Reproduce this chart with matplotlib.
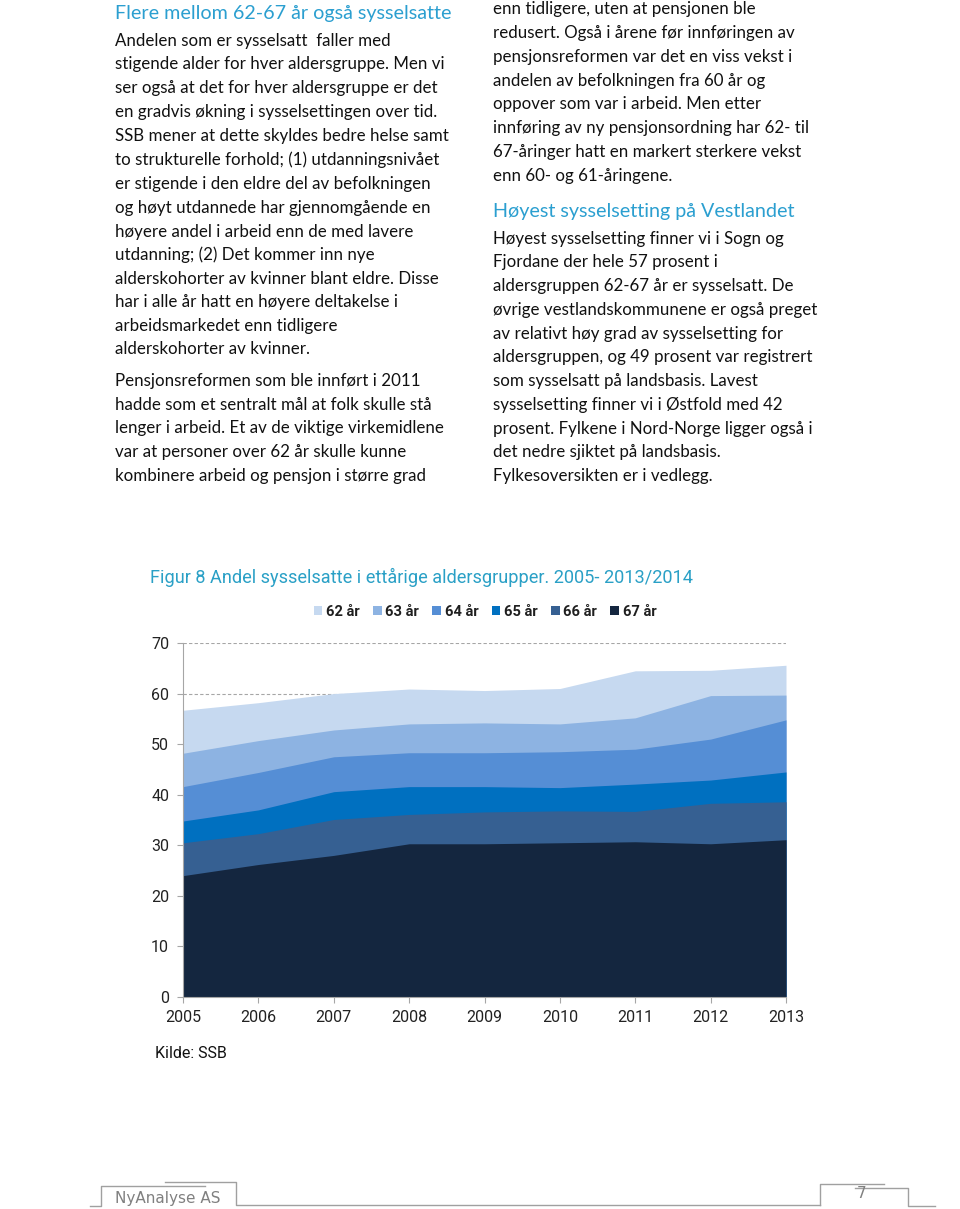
import matplotlib
matplotlib.use("Agg")
import matplotlib.pyplot as plt
from matplotlib.patches import Patch
from matplotlib.lines import Line2D

# ---------------- data ----------------
years = [2005, 2006, 2007, 2008, 2009, 2010, 2011, 2012, 2013]
series_names = ["62 år", "63 år", "64 år", "65 år", "66 år", "67 år"]
v62 = [56.7, 58.2, 60.0, 60.9, 60.6, 61.0, 64.5, 64.6, 65.6]
v63 = [48.2, 50.7, 52.8, 54.0, 54.2, 54.0, 55.2, 59.6, 59.7]
v64 = [41.6, 44.4, 47.5, 48.3, 48.3, 48.5, 49.0, 51.0, 54.8]
v65 = [34.8, 37.0, 40.6, 41.6, 41.6, 41.4, 42.1, 42.9, 44.5]
v66 = [30.5, 32.3, 35.1, 36.1, 36.6, 36.8, 36.7, 38.3, 38.6]
v67 = [24.0, 26.2, 28.0, 30.3, 30.3, 30.5, 30.7, 30.3, 31.1]
series_values = [v62, v63, v64, v65, v66, v67]
colors = ["#C6D9F0", "#8DB3E2", "#558ED5", "#0070C0", "#366092", "#14263F"]
yticks = [0, 10, 20, 30, 40, 50, 60, 70]

chart_title = "Figur 8 Andel sysselsatte i ettårige aldersgrupper. 2005- 2013/2014"
source = "Kilde: SSB"

left_heading = "Flere mellom 62-67 år også sysselsatte"
left_lines = [
    "Andelen som er sysselsatt  faller med",
    "stigende alder for hver aldersgruppe. Men vi",
    "ser også at det for hver aldersgruppe er det",
    "en gradvis økning i sysselsettingen over tid.",
    "SSB mener at dette skyldes bedre helse samt",
    "to strukturelle forhold; (1) utdanningsnivået",
    "er stigende i den eldre del av befolkningen",
    "og høyt utdannede har gjennomgående en",
    "høyere andel i arbeid enn de med lavere",
    "utdanning; (2) Det kommer inn nye",
    "alderskohorter av kvinner blant eldre. Disse",
    "har i alle år hatt en høyere deltakelse i",
    "arbeidsmarkedet enn tidligere",
    "alderskohorter av kvinner.",
    "Pensjonsreformen som ble innført i 2011",
    "hadde som et sentralt mål at folk skulle stå",
    "lenger i arbeid. Et av de viktige virkemidlene",
    "var at personer over 62 år skulle kunne",
    "kombinere arbeid og pensjon i større grad",
]
left_y = [41, 64, 88, 112, 136, 160, 184, 208, 232, 255, 279, 302, 326, 349,
          381, 405, 428, 452, 476]

right_lines_a = [
    "enn tidligere, uten at pensjonen ble",
    "redusert. Også i årene før innføringen av",
    "pensjonsreformen var det en viss vekst i",
    "andelen av befolkningen fra 60 år og",
    "oppover som var i arbeid. Men etter",
    "innføring av ny pensjonsordning har 62- til",
    "67-åringer hatt en markert sterkere vekst",
    "enn 60- og 61-åringene.",
]
right_y_a = [9, 33, 57, 81, 104, 128, 152, 176]
right_heading = "Høyest sysselsetting på Vestlandet"
right_lines_b = [
    "Høyest sysselsetting finner vi i Sogn og",
    "Fjordane der hele 57 prosent i",
    "aldersgruppen 62-67 år er sysselsatt. De",
    "øvrige vestlandskommunene er også preget",
    "av relativt høy grad av sysselsetting for",
    "aldersgruppen, og 49 prosent var registrert",
    "som sysselsatt på landsbasis. Lavest",
    "sysselsetting finner vi i Østfold med 42",
    "prosent. Fylkene i Nord-Norge ligger også i",
    "det nedre sjiktet på landsbasis.",
    "Fylkesoversikten er i vedlegg.",
]
right_y_b = [239, 262, 286, 310, 334, 357, 381, 405, 429, 452, 476]

# ---------------- figure ----------------
W, H = 960, 1209
fig = plt.figure(figsize=(W / 100, H / 100), dpi=100)
fig.patch.set_facecolor("white")

def fx(x):
    return x / W

def fy(y):
    return 1 - y / H

BODY_FONT = "Lato"
HEAD_COLOR = "#2B9FD0"
TEXT_COLOR = "#111111"
CHART_FONT = "Roboto"

renderer = fig.canvas.get_renderer()

def fit_size(text, target_px, family, weight="normal"):
    t = fig.text(0, 0, text, fontsize=10, family=family, weight=weight)
    w = t.get_window_extent(renderer=renderer).width
    t.remove()
    return 10 * target_px / w

body_size = fit_size("stigende alder for hver aldersgruppe. Men vi", 328, BODY_FONT)
head_size = fit_size(left_heading, 337, BODY_FONT)

# left column
fig.text(fx(115), fy(14), left_heading, fontsize=head_size, family=BODY_FONT,
         color=HEAD_COLOR, va="center", ha="left")
for s, y in zip(left_lines, left_y):
    fig.text(fx(115), fy(y), s, fontsize=body_size, family=BODY_FONT,
             color=TEXT_COLOR, va="center", ha="left")

# right column
for s, y in zip(right_lines_a, right_y_a):
    fig.text(fx(493), fy(y), s, fontsize=body_size, family=BODY_FONT,
             color=TEXT_COLOR, va="center", ha="left")
fig.text(fx(493), fy(212), right_heading, fontsize=head_size, family=BODY_FONT,
         color=HEAD_COLOR, va="center", ha="left")
for s, y in zip(right_lines_b, right_y_b):
    fig.text(fx(493), fy(y), s, fontsize=body_size, family=BODY_FONT,
             color=TEXT_COLOR, va="center", ha="left")

# chart title
title_size = fit_size(chart_title, 540, CHART_FONT)
fig.text(fx(150), fy(577), chart_title, fontsize=title_size, family=CHART_FONT,
         color="#2AA0C6", va="center", ha="left")

# ---------------- chart ----------------
ax = fig.add_axes([fx(183), fy(997), (786 - 183) / W, (997 - 643) / H])
for name, vals, c in zip(series_names, series_values, colors):
    ax.fill_between(years, 0, vals, color=c, linewidth=0, label=name, zorder=2)

ax.set_xlim(years[0], years[-1])
ax.set_ylim(0, 70)
ax.set_yticks(yticks)
ax.set_xticks(years)
ax.set_xticklabels([str(y) for y in years])
ax.grid(axis="y", color="#A6A6A6", linestyle=(0, (3, 2)), linewidth=0.8, zorder=0)
ax.set_axisbelow(True)
for side in ["top", "right"]:
    ax.spines[side].set_visible(False)
ax.spines["left"].set_color("#A6A6A6")
ax.spines["bottom"].set_color("#A6A6A6")
ax.spines["left"].set_zorder(3)
ax.spines["bottom"].set_zorder(3)
ax.tick_params(axis="both", colors="#A6A6A6", length=4, width=0.8,
               labelcolor="#222222", labelsize=11.5)
ax.tick_params(axis="y", pad=6)
ax.tick_params(axis="x", pad=5)
for lab in ax.get_xticklabels() + ax.get_yticklabels():
    lab.set_family(CHART_FONT)

handles = [Patch(facecolor=c, edgecolor="none") for c in colors]
leg = ax.legend(handles, series_names, loc="center", ncol=6,
                bbox_to_anchor=((485 - 183) / (786 - 183), 1 + (643 - 612) / (997 - 643)),
                frameon=False, handlelength=0.6, handleheight=0.6,
                handletextpad=0.25, columnspacing=0.9,
                prop={"family": CHART_FONT, "weight": "bold", "size": 10.5})
for t in leg.get_texts():
    t.set_color("#1F1F1F")

fig.text(fx(155), fy(1053), source, fontsize=11.5, family=CHART_FONT,
         color="#111111", va="center", ha="left")

# ---------------- footer decoration ----------------
LC = "#A0A0A0"
def pline(xs, ys):
    fig.add_artist(Line2D([fx(x) for x in xs], [fy(y) for y in ys],
                          color=LC, linewidth=1.0))

pline([90, 101, 101, 205], [1206, 1206, 1186, 1186])
pline([165, 236, 236, 820], [1182, 1182, 1205, 1205])
pline([820, 820, 884], [1205, 1184, 1184])
pline([855, 908, 908, 935], [1188, 1188, 1206, 1206])
fig.text(fx(115), fy(1198), "NyAnalyse AS", fontsize=11, family="DejaVu Sans",
         color="#808080", va="center", ha="left")
fig.text(fx(862), fy(1194), "7", fontsize=11, family="DejaVu Sans",
         color="#808080", va="center", ha="center")

fig.savefig("out.png", dpi=100, facecolor="white")
